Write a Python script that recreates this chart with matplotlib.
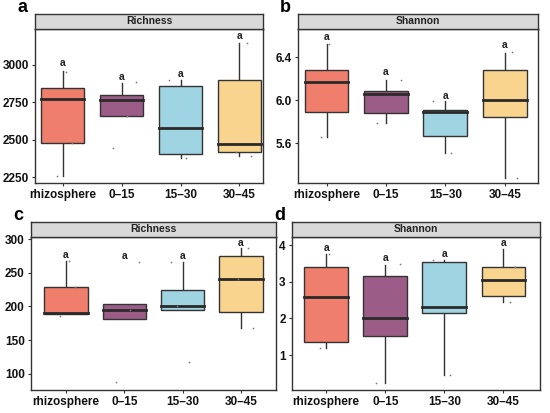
import numpy as np
import matplotlib
matplotlib.use('Agg')
import matplotlib.pyplot as plt
from matplotlib.patches import Rectangle

# -----------------------------------------------------------------------------------------------------------
# Alpha diversity boxplots (Richness / Shannon) for four sampling depths, two sets of panels.
# -----------------------------------------------------------------------------------------------------------

plt.rcParams['font.family'] = ['Liberation Sans', 'DejaVu Sans']

groups = ['rhizosphere', '0\u201315', '15\u201330', '30\u201345']
colors = ['#F07E6C', '#9C5C88', '#9FD4E2', '#F8D48E']

# box statistics per group: whisker low, q1, median, q3, whisker high
a_stats = [[2259, 2476, 2774, 2845, 2962],
           [2657, 2657, 2768, 2796, 2878],
           [2376, 2403, 2580, 2856, 2896],
           [2392, 2414, 2469, 2896, 3144]]
a_points = [[2955, 2259, 2476], [2883, 2447, 2657], [2896, 2376], [3144, 2392, 2414]]
a_letters = [3011, 2918, 2940, 3192]

b_stats = [[5.66, 5.89, 6.17, 6.28, 6.525],
           [5.79, 5.88, 6.06, 6.08, 6.19],
           [5.51, 5.665, 5.885, 5.91, 5.99],
           [5.275, 5.84, 6.00, 6.28, 6.44]]
b_points = [[6.525, 5.66], [6.19, 5.79], [5.99, 5.51], [6.45, 5.275]]
b_letters = [6.59, 6.26, 6.04, 6.51]

c_stats = [[189, 189, 190, 229, 267],
           [182, 182, 194, 204, 204],
           [195, 195, 200.5, 224, 266],
           [168, 191, 240, 275, 286]]
c_points = [[267, 186, 229], [266, 88, 194], [266, 118, 200], [286, 168, 240]]
c_letters = [277, 275, 275, 294]

d_stats = [[1.2, 1.35, 2.59, 3.39, 3.745],
           [0.23, 1.53, 2.0, 3.15, 3.47],
           [0.47, 2.16, 2.32, 3.54, 3.59],
           [2.44, 2.62, 3.05, 3.39, 3.89]]
d_points = [[3.745, 1.2], [3.49, 0.23], [3.59, 0.47], [2.44, 3.39]]
d_letters = [3.91, 3.66, 3.75, 4.05]

# small horizontal offsets for the jittered raw points
jitter = [[0.05, -0.1, 0.15, 0.0], [0.25, -0.15, 0.1, 0.2], [-0.2, 0.1, -0.1, 0.05], [0.12, 0.2, -0.05, -0.15]]

panels = [
    ('a', 'Richness', a_stats, a_points, a_letters, [2250, 2500, 2750, 3000], (2210, 3240), (0.53, 4.4),
     [35, 263, 29, 183]),
    ('b', 'Shannon', b_stats, b_points, b_letters, [5.6, 6.0, 6.4], (5.23, 6.66), (0.52, 4.56),
     [298, 538, 29, 183]),
    ('c', 'Richness', c_stats, c_points, c_letters, [100, 150, 200, 250, 300], (76, 303), (0.4, 4.6),
     [31, 276, 237, 390]),
    ('d', 'Shannon', d_stats, d_points, d_letters, [1, 2, 3, 4], (0.05, 4.22), (0.42, 4.62),
     [292, 540, 237, 390]),
]

W, H = 550, 413
fig = plt.figure(figsize=(W / 100, H / 100), dpi=100)
edge = '#333333'

for letter, title, stats, points, letters, yticks, ylim, xlim, box in panels:
    x0, x1, y0, y1 = box
    ax = fig.add_axes([x0 / W, 1 - y1 / H, (x1 - x0) / W, (y1 - y0) / H])
    for i, (lo, q1, med, q3, hi) in enumerate(stats):
        pos = i + 1
        ax.plot([pos, pos], [lo, q1], color=edge, lw=1, zorder=1)
        ax.plot([pos, pos], [q3, hi], color=edge, lw=1, zorder=1)
        ax.add_patch(Rectangle((pos - 0.37, q1), 0.74, q3 - q1, facecolor=colors[i],
                               edgecolor=edge, lw=1, zorder=2))
        ax.plot([pos - 0.37, pos + 0.37], [med, med], color='#2a2a2a', lw=2, zorder=3)
        for j, v in enumerate(points[i]):
            ax.scatter(pos + jitter[i][j % 4], v, s=1.5, color='#777777', zorder=4, lw=0)
        ax.text(pos, letters[i], 'a', ha='center', va='center', fontsize=7.5,
                fontweight='bold', color='#222222')
    ax.set_xlim(*xlim)
    ax.set_ylim(*ylim)
    ax.set_xticks(range(1, 5))
    ax.set_xticklabels(groups)
    ax.set_yticks(yticks)
    ax.set_yticklabels([str(t) for t in yticks] if letter in 'ac' else ['%.1f' % t for t in yticks]
                       if letter == 'b' else [str(t) for t in yticks])
    ax.tick_params(labelsize=8.5, length=2.5, width=0.8, color=edge, pad=2)
    for lbl in ax.get_xticklabels() + ax.get_yticklabels():
        lbl.set_fontweight('bold')
        lbl.set_color('#111111')
    for sp in ax.spines.values():
        sp.set_color(edge)
        sp.set_linewidth(1)

    # facet strip on top
    sax = fig.add_axes([x0 / W, 1 - y0 / H, (x1 - x0) / W, 15 / H])
    sax.set_facecolor('#D9D9D9')
    sax.set_xticks([])
    sax.set_yticks([])
    for sp in sax.spines.values():
        sp.set_color(edge)
        sp.set_linewidth(1)
    sax.text(0.5, 0.5, title, transform=sax.transAxes, ha='center', va='center',
             fontsize=7.5, fontweight='bold', color='#222222')

    fig.text((x0 - 18) / W, 1 - (y0 - 22) / H, letter, fontsize=13, fontweight='bold',
             ha='left', va='center')

fig.savefig('out.png', dpi=100)
